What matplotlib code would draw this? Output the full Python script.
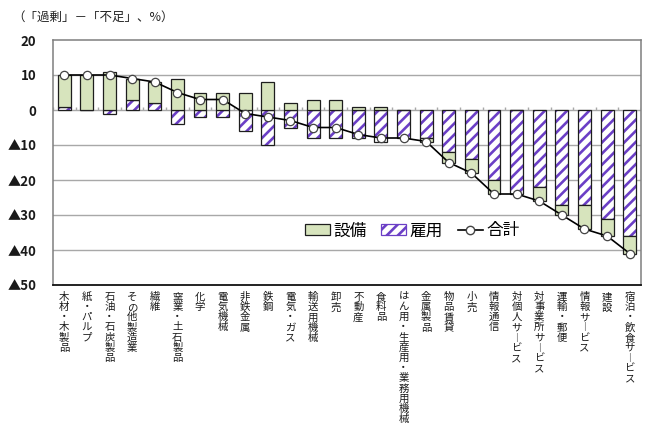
import matplotlib
matplotlib.use("Agg")
import matplotlib.pyplot as plt
from matplotlib.patches import Patch
from matplotlib.lines import Line2D
import numpy as np

plt.rcParams['font.family'] = ['Noto Sans CJK JP', 'DejaVu Sans']
plt.rcParams['hatch.linewidth'] = 1.9

# 業種別 設備・雇用の過不足 DI（「過剰」－「不足」、%）
categories = ["木材・木製品", "紙・パルプ", "石油・石炭製品", "その他製造業", "繊維",
              "窯業・土石製品", "化学", "電気機械", "非鉄金属", "鉄鋼", "電気・ガス",
              "輸送用機械", "卸売", "不動産", "食料品", "はん用・生産用・業務用機械",
              "金属製品", "物品賃貸", "小売", "情報通信", "対個人サービス",
              "対事業所サービス", "運輸・郵便", "情報サービス", "建設", "宿泊・飲食サービス"]
equipment = [9, 10, 11, 6, 6, 9, 5, 5, 5, 8, 2, 3, 3, 1, 1, 0, -1, -3, -4, -4, 0, -4, -3, -7, -5, -5]
employment = [1, 0, -1, 3, 2, -4, -2, -2, -6, -10, -5, -8, -8, -8, -9, -8, -8, -12, -14, -20, -24,
              -22, -27, -27, -31, -36]
total = [10, 10, 10, 9, 8, 5, 3, 3, -1, -2, -3, -5, -5, -7, -8, -8, -9, -15, -18, -24, -24, -26,
         -30, -34, -36, -41]
yticks = [20, 10, 0, -10, -20, -30, -40, -50]
ytick_labels = ["20", "10", "0", "▲10", "▲20", "▲30", "▲40", "▲50"]

GREEN = '#D7E4BD'
PURPLE = '#6B3FC6'
EDGE = '#1e1e1e'

fig = plt.figure(figsize=(6.49, 4.32), dpi=100)
ax = fig.add_axes([53 / 649, 1 - 285 / 432, 588 / 649, 245 / 432])

x = np.arange(len(categories))
eq = np.array(equipment, dtype=float)
em = np.array(employment, dtype=float)

# employment sits on the zero line; equipment stacks on it when both share a sign
em_base = np.zeros_like(em)
eq_base = np.where(np.sign(eq) == np.sign(em), em, 0.0)

w = 0.57
ax.bar(x, em, w, bottom=em_base, facecolor='white', edgecolor=PURPLE, hatch='///',
       linewidth=0, zorder=2)
ax.bar(x, em, w, bottom=em_base, fill=False, edgecolor=EDGE, linewidth=0.9, zorder=3)
ax.bar(x, eq, w, bottom=eq_base, facecolor=GREEN, edgecolor=EDGE, linewidth=0.9, zorder=3)

ax.plot(x, total, color='black', linewidth=1.2, marker='o', markersize=6,
        markerfacecolor='white', markeredgecolor='#444444', markeredgewidth=0.9, zorder=5)

# axes and grid
ax.set_xlim(-0.5, len(categories) - 0.5)
ax.set_ylim(-50, 20)
ax.set_yticks(yticks)
ax.set_yticklabels(ytick_labels, fontsize=9.5, color='#1a1a1a', fontweight='bold')
ax.tick_params(axis='y', length=0, pad=12)
for yv in yticks:
    if -50 < yv < 20:
        ax.axhline(yv, color='#A8A8A8', linewidth=1.0, zorder=1)
# category-boundary ticks on the zero line
ax.vlines(np.arange(len(categories) + 1) - 0.5, 0, 0.9, color='#A8A8A8', linewidth=1.0, zorder=1)

ax.set_xticks(x)
ax.set_xticklabels(["\n".join(c.replace("ー", "︱")) for c in categories],
                   fontsize=7.5, linespacing=1.02, va='top', color='#1a1a1a')
ax.tick_params(axis='x', length=0, pad=5)

for side in ['top', 'left', 'right']:
    ax.spines[side].set_color('#7F7F7F')
    ax.spines[side].set_linewidth(1.1)
ax.spines['bottom'].set_color('#111111')
ax.spines['bottom'].set_linewidth(1.3)

handles = [
    Patch(facecolor=GREEN, edgecolor=EDGE, linewidth=0.9),
    (Patch(facecolor='white', edgecolor=PURPLE, hatch='///', linewidth=0),
     Patch(fill=False, edgecolor=PURPLE, linewidth=0.9)),
    Line2D([], [], color='black', linewidth=1.2, marker='o', markersize=6,
           markerfacecolor='white', markeredgecolor='#444444'),
]
fig.legend(handles, ["設備", "雇用", "合計"], loc='center', bbox_to_anchor=(412 / 649, 1 - 231 / 432),
           ncol=3, frameon=False, fontsize=12, handlelength=1.5, handleheight=0.6,
           handletextpad=0.2, columnspacing=0.9, borderpad=0)

fig.text(12 / 649, 1 - 17 / 432, "（「過剰」－「不足」、%）", fontsize=9, va='center', ha='left',
         color='#222222')

fig.savefig("out.png", dpi=100)
